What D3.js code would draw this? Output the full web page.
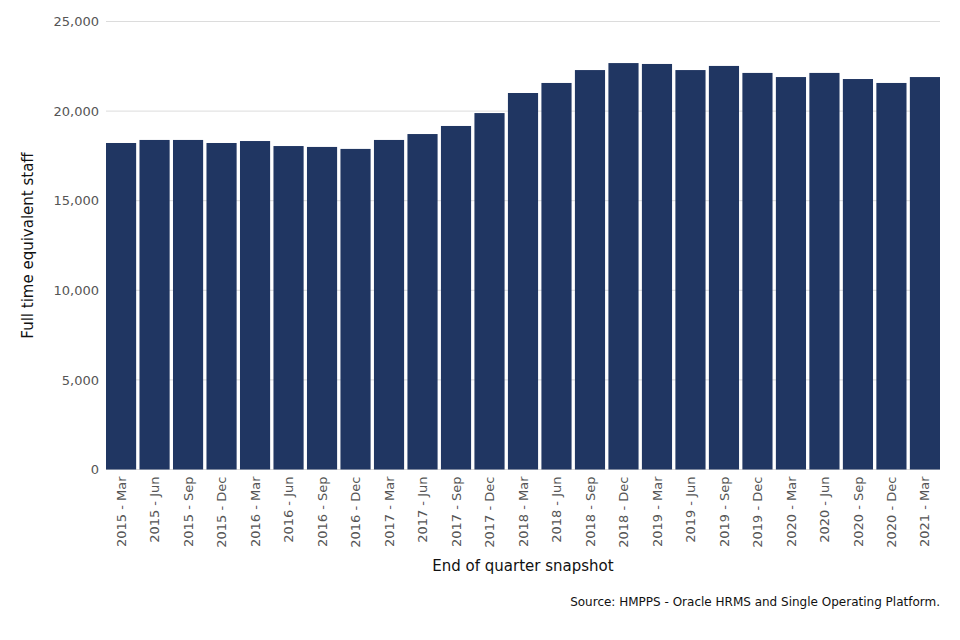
<!DOCTYPE html>
<html>
<head>
<meta charset="utf-8">
<script src="https://cdn.jsdelivr.net/npm/d3@7"></script>
<style>
  body { margin: 0; background: #fff; font-family: "DejaVu Sans", sans-serif; }
  .tick text { fill: #555; }
</style>
</head>
<body>
<svg id="chart" width="960" height="640"></svg>
<script>
const quarters = [
  "2015 - Mar", "2015 - Jun", "2015 - Sep", "2015 - Dec",
  "2016 - Mar", "2016 - Jun", "2016 - Sep", "2016 - Dec",
  "2017 - Mar", "2017 - Jun", "2017 - Sep", "2017 - Dec",
  "2018 - Mar", "2018 - Jun", "2018 - Sep", "2018 - Dec",
  "2019 - Mar", "2019 - Jun", "2019 - Sep", "2019 - Dec",
  "2020 - Mar", "2020 - Jun", "2020 - Sep", "2020 - Dec",
  "2021 - Mar"
];
const fteStaff = [
  18220, 18390, 18390, 18220,
  18330, 18050, 18000, 17890,
  18390, 18720, 19170, 19890,
  21010, 21570, 22290, 22680,
  22630, 22290, 22520, 22130,
  21900, 22130, 21790, 21570,
  21900
];
const yTicks = [0, 5000, 10000, 15000, 20000, 25000];

const margin = { top: 21.5, right: 20, bottom: 170.5, left: 106 };
const svg = d3.select("#chart");
const width = 960 - margin.left - margin.right;
const height = 640 - margin.top - margin.bottom;

const g = svg.append("g")
  .attr("transform", "translate(" + margin.left + "," + margin.top + ")");

const x = d3.scaleBand()
  .domain(quarters)
  .range([0, width])
  .paddingInner(0.1)
  .paddingOuter(0);

const y = d3.scaleLinear()
  .domain([0, 25000])
  .range([height, 0]);

// gridlines
g.append("g")
  .selectAll("line")
  .data(yTicks)
  .enter()
  .append("line")
  .attr("x1", 0)
  .attr("x2", width)
  .attr("y1", d => y(d))
  .attr("y2", d => y(d))
  .attr("stroke", "#dcdcdc")
  .attr("stroke-width", 1);

// y axis
const yAxis = g.append("g")
  .call(d3.axisLeft(y).tickValues(yTicks).tickFormat(d3.format(",")).tickSize(0).tickPadding(7));
yAxis.select(".domain").remove();
yAxis.selectAll("text").style("font-size", "13px").style("font-family", "DejaVu Sans");

// bars
g.append("g")
  .selectAll("rect")
  .data(fteStaff)
  .enter()
  .append("rect")
  .attr("x", (d, i) => x(quarters[i]))
  .attr("width", x.bandwidth())
  .attr("y", d => y(d))
  .attr("height", d => height - y(d))
  .attr("fill", "#203662");

// x axis
const xAxis = g.append("g")
  .attr("transform", "translate(0," + height + ")")
  .call(d3.axisBottom(x).tickSize(0).tickPadding(0));
xAxis.select(".domain").remove();
xAxis.selectAll("text")
  .style("font-size", "13px")
  .style("font-family", "DejaVu Sans")
  .attr("transform", "rotate(-90)")
  .attr("dy", "0.35em")
  .attr("dx", "-7")
  .attr("x", 0)
  .attr("y", 0)
  .style("text-anchor", "end");

// axis titles
svg.append("text")
  .attr("x", margin.left + width / 2)
  .attr("y", 571)
  .attr("text-anchor", "middle")
  .style("font-size", "15px")
  .style("fill", "#111")
  .text("End of quarter snapshot");

svg.append("text")
  .attr("transform", "translate(33," + (margin.top + height / 2) + ") rotate(-90)")
  .attr("text-anchor", "middle")
  .style("font-size", "15px")
  .style("fill", "#111")
  .text("Full time equivalent staff");

svg.append("text")
  .attr("x", 940)
  .attr("y", 606)
  .attr("text-anchor", "end")
  .style("font-size", "12px")
  .style("fill", "#111")
  .text("Source: HMPPS - Oracle HRMS and Single Operating Platform.");
</script>
</body>
</html>
